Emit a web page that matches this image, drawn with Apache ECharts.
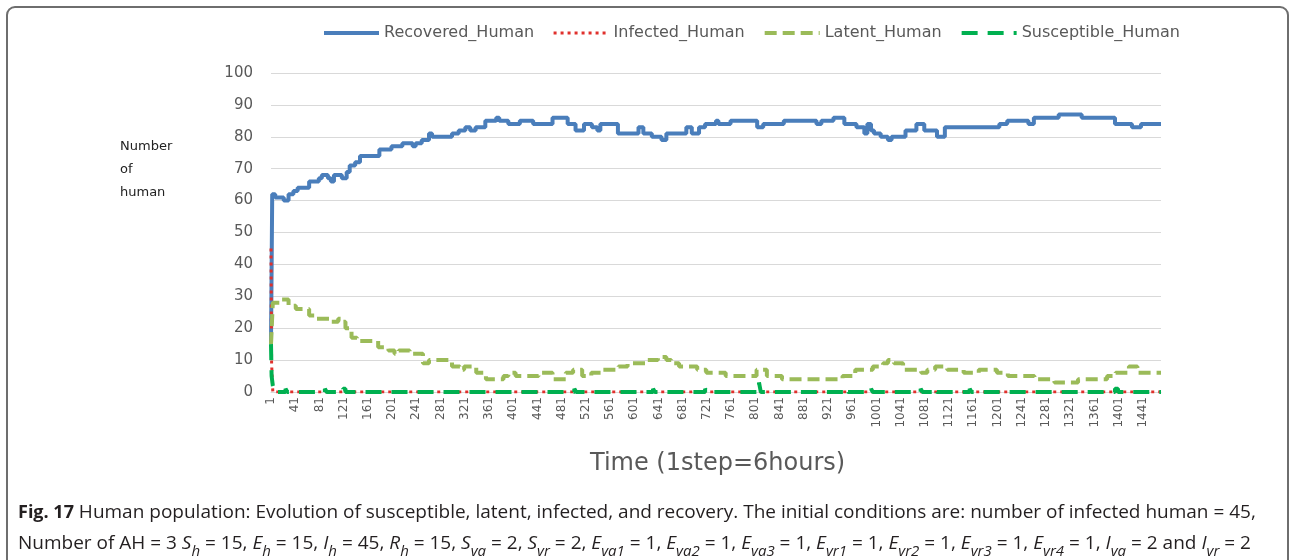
<!DOCTYPE html>
<html><head><meta charset="utf-8">
<script src="https://cdn.jsdelivr.net/npm/echarts@6/dist/echarts.min.js"></script>
<style>html,body{margin:0;padding:0;background:#fff}#c{width:1290px;height:560px}</style>
</head><body><div id="c"></div>
<script>
const seriesNames = ['Recovered_Human', 'Infected_Human', 'Latent_Human', 'Susceptible_Human'];
const xLabelEvery = 40;

const recoveredSteps = [1,3,8,22,30,38,45,64,80,85,95,100,105,118,126,131,140,148,180,200,218,235,240,250,262,267,300,311,322,330,339,355,373,378,393,412,434,466,491,504,518,531,540,545,574,608,616,630,646,654,687,696,708,718,736,740,760,804,814,848,902,910,930,948,968,981,986,992,997,1008,1020,1026,1049,1067,1080,1101,1114,1204,1217,1252,1261,1302,1340,1395,1423,1438,1471];
const recoveredValues = [15,62,61,60,62,63,64,66,67,68,67,66,68,67,69,71,72,74,76,77,78,77,78,79,81,80,81,82,83,82,83,85,86,85,84,85,84,86,84,82,84,83,82,84,81,83,81,80,79,81,83,81,83,84,85,84,85,83,84,85,84,85,86,84,83,81,84,82,81,80,79,80,82,84,82,80,83,84,85,84,86,87,86,84,83,84,84];

const infectedSteps = [1,2,4,1471];
const infectedValues = [45,9,0,0];

const latentSteps = [1,4,15,30,42,64,76,100,112,118,124,134,143,178,195,205,212,230,252,262,300,313,320,340,356,385,393,405,443,466,488,500,515,530,547,575,590,622,640,654,662,675,705,720,752,803,820,845,905,945,966,995,1012,1020,1030,1045,1075,1085,1098,1118,1145,1170,1200,1218,1262,1295,1334,1382,1396,1418,1432,1471];
const latentValues = [15,28,29,27,26,24,23,22,23,22,20,17,16,14,13,12,13,12,9,10,8,7,8,6,4,5,6,5,6,4,6,7,5,6,7,8,9,10,11,10,9,8,7,6,5,7,5,4,4,5,7,8,9,10,9,7,6,7,8,7,6,7,6,5,4,3,4,5,6,8,6,6];

const susceptibleSteps = [1,2,4,6,25,28,90,93,120,124,502,505,632,635,718,721,807,810,951,954,992,995,1074,1077,1098,1101,1155,1158,1395,1400,1471];
const susceptibleValues = [15,5,2,0,1,0,1,0,1,0,1,0,1,0,1,0,3,0,1,0,1,0,1,0,1,0,1,0,1,0,0];

const yTicks = {min: 0, max: 100, interval: 10};

function toPairs(steps, vals) { return steps.map((s, i) => [s - 1, vals[i]]); }

const chart = echarts.init(document.getElementById('c'), null, {renderer: 'canvas'});
const grey = '#595959';
const lineSeries = (name, steps, vals, color, width, type, z) => ({
  name, type: 'line', step: 'end', symbol: 'none', z,
  data: toPairs(steps, vals),
  lineStyle: {color, width, type},
  itemStyle: {color},
  emphasis: {disabled: true}
});

chart.setOption({
  animation: false,
  backgroundColor: '#fff',
  textStyle: {fontFamily: 'DejaVu Sans'},
  legend: {
    left: 317, top: 20, itemWidth: 55, itemHeight: 12, itemGap: 18,
    itemStyle: {opacity: 0},
    textStyle: {color: grey, fontSize: 16, fontFamily: 'DejaVu Sans'},
    data: [
      {name: seriesNames[0], lineStyle: {width: 4}},
      {name: seriesNames[1], lineStyle: {width: 3}},
      {name: seriesNames[2], lineStyle: {width: 4}},
      {name: seriesNames[3], lineStyle: {width: 4}}
    ]
  },
  grid: {left: 271, right: 129, top: 73, bottom: 168, containLabel: false},
  xAxis: {
    type: 'value', min: 0, max: 1470, interval: xLabelEvery,
    axisLine: {show: true, lineStyle: {color: '#d9d9d9'}},
    axisTick: {show: false},
    splitLine: {show: false},
    axisLabel: {rotate: 90, fontSize: 12, color: grey, margin: 5, showMaxLabel: false,
      formatter: v => (v % xLabelEvery === 0 ? String(v + 1) : '')}
  },
  yAxis: {
    type: 'value', min: yTicks.min, max: yTicks.max, interval: yTicks.interval,
    axisLine: {show: false}, axisTick: {show: false},
    splitLine: {lineStyle: {color: '#d9d9d9', width: 1}},
    axisLabel: {fontSize: 15, color: grey, margin: 18}
  },
  series: [
    lineSeries(seriesNames[0], recoveredSteps, recoveredValues, '#4a7ebb', 4, 'solid', 2),
    lineSeries(seriesNames[1], infectedSteps, infectedValues, '#e0302c', 3, [3, 4], 3),
    lineSeries(seriesNames[2], latentSteps, latentValues, '#9bbb59', 4, [12, 6], 4),
    lineSeries(seriesNames[3], susceptibleSteps, susceptibleValues, '#00b050', 4, [16, 10], 5)
  ],
  graphic: [
    {type: 'rect', shape: {x: 7, y: 7, width: 1281, height: 620, r: 8}, style: {fill: 'none', stroke: '#6e6e6e', lineWidth: 2}, silent: true},
    {type: 'text', left: 120, top: 135, style: {text: 'Number\nof\nhuman', fontSize: 13, lineHeight: 23, fill: '#222', fontFamily: 'DejaVu Sans'}},
    {type: 'text', left: 590, top: 452, style: {text: 'Time (1step=6hours)', fontSize: 24, fill: grey, fontFamily: 'DejaVu Sans'}},
    {type: 'text', left: 18, top: 497, style: {
      text: '{b|Fig. 17} Human population: Evolution of susceptible, latent, infected, and recovery. The initial conditions are: number of infected human = 45,\n' +
            'Number of AH = 3 {i|S}{s|h} = 15, {i|E}{s|h} = 15, {i|I}{s|h} = 45, {i|R}{s|h} = 15, {i|S}{s|va} = 2, {i|S}{s|vr} = 2, {i|E}{s|va1} = 1, {i|E}{s|va2} = 1, {i|E}{s|va3} = 1, {i|E}{s|vr1} = 1, {i|E}{s|vr2} = 1, {i|E}{s|vr3} = 1, {i|E}{s|vr4} = 1, {i|I}{s|va} = 2 and {i|I}{s|vr} = 2',
      fontSize: 19, lineHeight: 31, fill: '#231f20', fontFamily: 'Open Sans',
      rich: {
        b: {fontWeight: 'bold', fontSize: 18, fontFamily: 'Open Sans', fill: '#231f20'},
        i: {fontStyle: 'italic', fontSize: 19, fontFamily: 'Open Sans', fill: '#231f20'},
        s: {fontStyle: 'italic', fontSize: 15, fontFamily: 'Open Sans', fill: '#231f20', verticalAlign: 'bottom', lineHeight: 21}
      }
    }}
  ]
});
</script></body></html>
